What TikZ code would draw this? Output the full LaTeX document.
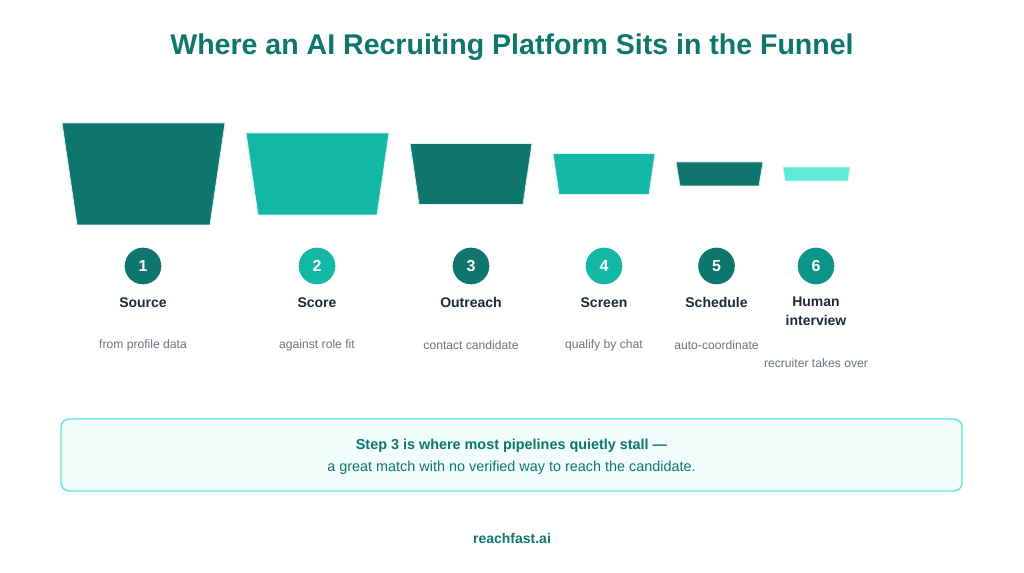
\documentclass[tikz,border=0pt]{standalone}
\usepackage{fontspec}
\setmainfont{Liberation Sans}
\definecolor{dteal}{HTML}{0F766E}
\definecolor{mteal}{HTML}{14B8A6}
\definecolor{lteal}{HTML}{5EEAD4}
\definecolor{cteal}{HTML}{0D9488}
\definecolor{namec}{HTML}{1E293B}
\definecolor{descc}{HTML}{6B7280}
\definecolor{boxfill}{HTML}{F0FDFA}
\begin{document}
\begin{tikzpicture}[x=0.75pt,y=-0.75pt,
  trap/.style={draw=white!85!mteal,line width=0.6pt},
  numc/.style={circle,minimum size=27.5pt,inner sep=0pt,text=white,font=\bfseries\fontsize{12}{14}\selectfont},
  namet/.style={text=namec,font=\bfseries\fontsize{10.5}{14}\selectfont,align=center,anchor=north,inner sep=0pt},
  desct/.style={text=descc,font=\fontsize{9.1}{11}\selectfont,inner sep=0pt},
  notebox/.style={draw=lteal,fill=boxfill,line width=1.1pt,rounded corners=6pt}]
\useasboundingbox (0,0) rectangle (1024,573);
\fill[white] (0,0) rectangle (1024,573);
\node[text=dteal,font=\bfseries\fontsize{21.4}{24}\selectfont] (title) at (512,47) {Where an AI Recruiting Platform Sits in the Funnel};
% trapezoids
\filldraw[trap,fill=dteal] (62,123) -- (225,123) -- (210,225) -- (77,225) -- cycle;
\filldraw[trap,fill=mteal] (246,133) -- (389,133) -- (377,215) -- (258,215) -- cycle;
\filldraw[trap,fill=dteal] (410,143.5) -- (532,143.5) -- (523,204.5) -- (419,204.5) -- cycle;
\filldraw[trap,fill=mteal] (553,153.5) -- (655,153.5) -- (649,194.5) -- (559,194.5) -- cycle;
\filldraw[trap,fill=dteal] (676,162) -- (763,162) -- (759,186) -- (680,186) -- cycle;
\filldraw[trap,fill=lteal] (783,167) -- (850,167) -- (848,181) -- (785,181) -- cycle;
% circles
\node[numc,fill=dteal] (c1) at (143,266) {1};
\node[numc,fill=mteal] (c2) at (317,266) {2};
\node[numc,fill=dteal] (c3) at (471,266) {3};
\node[numc,fill=mteal] (c4) at (604,266) {4};
\node[numc,fill=dteal] (c5) at (716.5,266) {5};
\node[numc,fill=cteal] (c6) at (816,266) {6};
% names
\node[namet] (n1) at (143,297) {Source};
\node[namet] (n2) at (317,297) {Score};
\node[namet] (n3) at (471,297) {Outreach};
\node[namet] (n4) at (604,297) {Screen};
\node[namet] (n5) at (716.5,297) {Schedule};
\node[namet] (n6) at (816,297) {Human\\interview};
% descriptions
\node[desct] (d1) at (143,345) {from profile data};
\node[desct] (d2) at (317,345) {against role fit};
\node[desct] (d3) at (471,345) {contact candidate};
\node[desct] (d4) at (604,345) {qualify by chat};
\node[desct] (d5) at (716.5,345) {auto-coordinate};
\node[desct] (d6) at (816,363) {recruiter takes over};
% note box
\draw[notebox] (61,419) rectangle (962,491);
\node[text=dteal,font=\bfseries\fontsize{10.8}{12}\selectfont] (l1) at (511.5,446) {Step 3 is where most pipelines quietly stall —};
\node[text=dteal,font=\fontsize{10.8}{12}\selectfont] (l2) at (511.5,468) {a great match with no verified way to reach the candidate.};
\node[text=dteal,font=\bfseries\fontsize{10.5}{12}\selectfont] (foot) at (512,538) {reachfast.ai};
\end{tikzpicture}
\end{document}
